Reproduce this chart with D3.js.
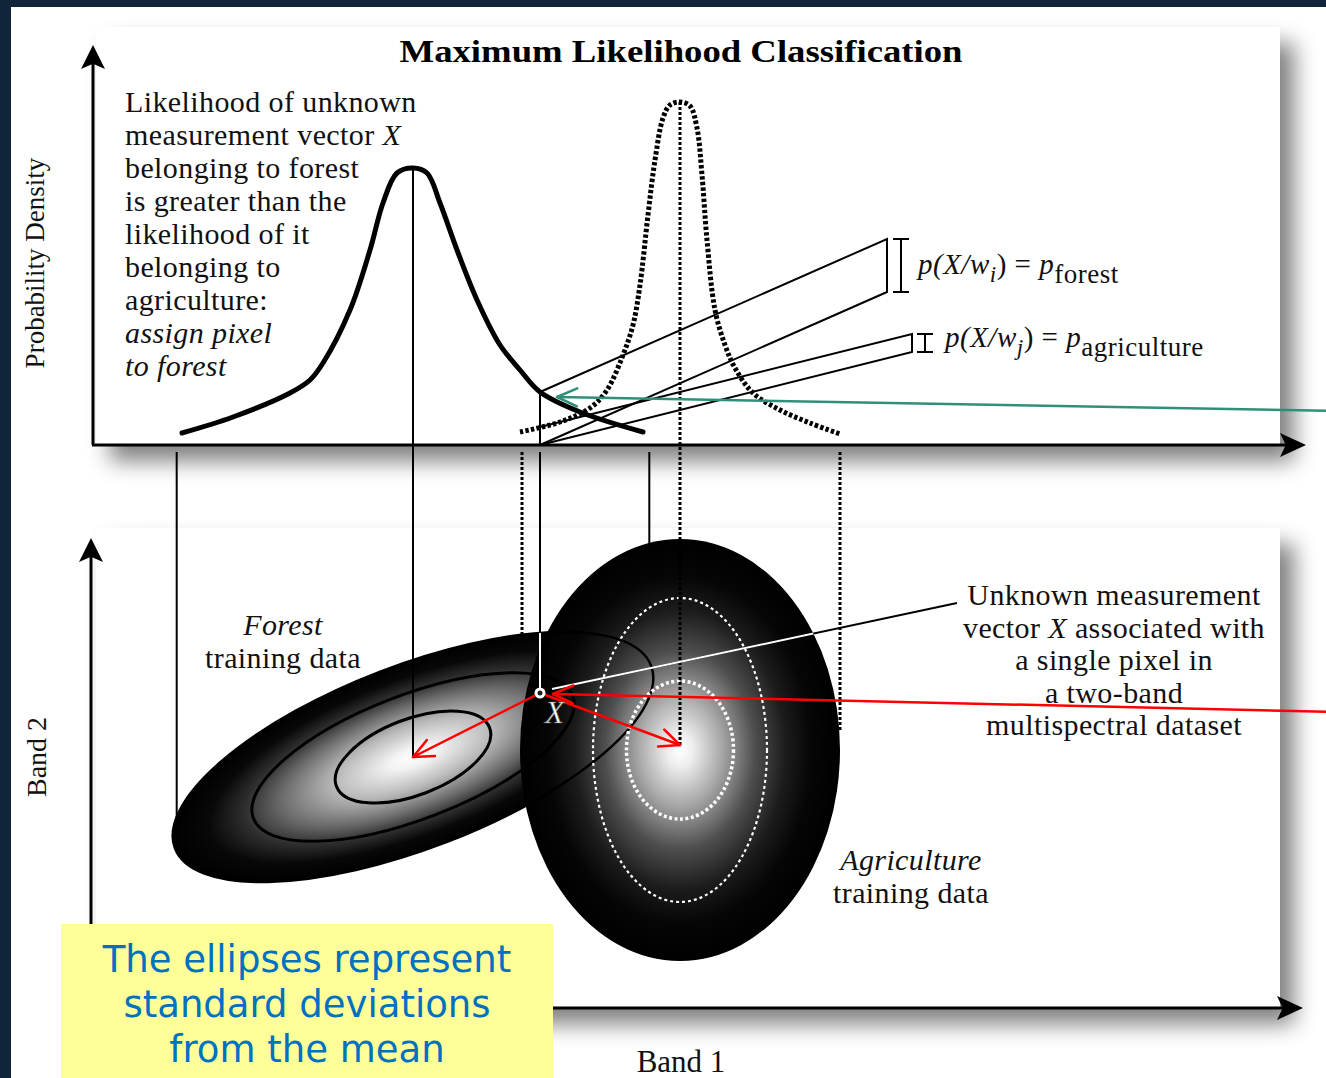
<!DOCTYPE html>
<html>
<head>
<meta charset="utf-8">
<script src="https://cdn.jsdelivr.net/npm/d3@7"></script>
<style>
  body { margin: 0; background: #10243a; }
  svg { display: block; }
</style>
</head>
<body>
<div id="chart"></div>
<script>
// ---- data (band units / relative density) ----
const forestCurve = [[17.8,3.0],[28.0,7.0],[39.4,13.0],[43.4,16.25],[46.0,20.5],[51.4,33.75],[55.4,48.75],[58.0,60.5],[60.8,68.0],[64.0,69.25],[66.8,68.0],[69.4,60.5],[72.8,48.75],[76.8,36.25],[81.4,25.0],[85.4,18.75],[89.4,13.25],[97.4,8.25],[110.0,3.25]];
const agriCurve = [[85.4,3.25],[93.4,5.75],[99.4,9.25],[102.8,13.75],[106.0,22.5],[108.0,30.0],[109.4,40.0],[111.0,57.5],[112.4,71.25],[114.0,81.75],[115.4,85.0],[117.4,85.75],[119.4,84.75],[120.8,79.25],[121.8,67.5],[122.8,51.25],[124.4,33.75],[126.4,25.0],[128.4,19.25],[132.0,13.0],[137.4,8.75],[143.4,5.5],[149.4,2.75]];

const forestMean = [64.0, 50.2];
const agriMean = [117.4, 51.6];
const pixelX = [89.4, 63.0];

// semi axes (major, minor) of the contours, in band units
const forestContours = [[16.4, 7.6], [34.2, 12.4], [51.0, 18.3]];
const forestTilt = 21;
const agriContours = [[10.7, 13.8], [17.4, 30.4], [32.0, 42.2]];

const pForest = 13.25;
const pAgri = 4.5;
const forestBracket = [158.8, 38.25];
const agriBracket = [163.8, 23.25];

const leftNote = [
  [["Likelihood of unknown", false]],
  [["measurement vector ", false], ["X", true]],
  [["belonging to forest", false]],
  [["is greater than the", false]],
  [["likelihood of it", false]],
  [["belonging to", false]],
  [["agriculture:", false]],
  [["assign pixel", true]],
  [["to forest", true]]
];
const rightNote = [
  [["Unknown measurement", false]],
  [["vector ", false], ["X", true], [" associated with", false]],
  [["a single pixel in", false]],
  [["a two-band", false]],
  [["multispectral dataset", false]]
];
const boxNote = ["The ellipses represent", "standard deviations", "from the mean"];

// ---- setup ----
const width = 1326, height = 1078;
const serif = "'Liberation Serif', 'Times New Roman', serif";

const svg = d3.select("#chart").append("svg")
  .attr("width", width).attr("height", height)
  .attr("viewBox", `0 0 ${width} ${height}`);
const defs = svg.append("defs");

const x = d3.scaleLinear().domain([0, 237.4]).range([93, 1280]);
const yTop = d3.scaleLinear().domain([0, 100]).range([445, 45]);
const yBot = d3.scaleLinear().domain([0, 93.6]).range([1008, 540]);
const unit = x(1) - x(0);

// background + page
svg.append("rect").attr("width", width).attr("height", height).attr("fill", "#10243a");
svg.append("rect").attr("x", 11).attr("y", 7).attr("width", width - 11).attr("height", height - 7).attr("fill", "#fff");

// card shadow
const f = defs.append("filter").attr("id", "shadow")
  .attr("x", "-5%").attr("y", "-10%").attr("width", "115%").attr("height", "130%");
f.append("feGaussianBlur").attr("in", "SourceAlpha").attr("stdDeviation", 11).attr("result", "blur");
f.append("feOffset").attr("in", "blur").attr("dx", 14).attr("dy", 16).attr("result", "off");
f.append("feFlood").attr("flood-color", "#000").attr("flood-opacity", 0.5);
f.append("feComposite").attr("in2", "off").attr("operator", "in").attr("result", "sh");
const fm = f.append("feMerge");
fm.append("feMergeNode").attr("in", "sh");
fm.append("feMergeNode").attr("in", "SourceGraphic");

[[27, 445], [528, 1008]].forEach(([y0, y1]) => {
  svg.append("rect").attr("x", 96).attr("y", y0).attr("width", 1280 - 96).attr("height", y1 - y0)
    .attr("fill", "#fff").attr("filter", "url(#shadow)");
});

// gradients
function radial(id, stops) {
  const g = defs.append("radialGradient").attr("id", id)
    .attr("cx", "50%").attr("cy", "50%").attr("r", "50%");
  stops.forEach(([o, c]) => g.append("stop").attr("offset", o).attr("stop-color", c));
}
radial("forestGrad", [[0, "#ffffff"], [0.1, "#f2f2f2"], [0.33, "#b8b8b8"], [0.55, "#6a6a6a"], [0.7, "#2e2e2e"], [0.85, "#080808"], [1, "#000"]]);
radial("agriGrad", [[0, "#ffffff"], [0.08, "#eeeeee"], [0.27, "#a4a4a4"], [0.47, "#4e4e4e"], [0.66, "#1c1c1c"], [0.82, "#060606"], [1, "#000"]]);

// helpers
function arrowHead(g, tx, ty, angle, L, W) {
  const a = angle * Math.PI / 180;
  const pts = [[0, 0], [-L, -W], [-L * 0.78, 0], [-L, W]].map(([px, py]) =>
    [tx + px * Math.cos(a) - py * Math.sin(a), ty + px * Math.sin(a) + py * Math.cos(a)]);
  g.append("path").attr("d", "M" + pts.join("L") + "Z").attr("fill", "#000");
}
function openArrow(g, x0, y0, x1, y1, color, sw) {
  g.append("line").attr("x1", x0).attr("y1", y0).attr("x2", x1).attr("y2", y1)
    .attr("stroke", color).attr("stroke-width", sw);
  const a = Math.atan2(y1 - y0, x1 - x0);
  [-0.42, 0.42].forEach(d => {
    g.append("line").attr("x1", x1).attr("y1", y1)
      .attr("x2", x1 - 22 * Math.cos(a + d)).attr("y2", y1 - 22 * Math.sin(a + d))
      .attr("stroke", color).attr("stroke-width", sw).attr("stroke-linecap", "round");
  });
}
function richText(g, lines, x0, y0, dy, anchor, size) {
  lines.forEach((segs, i) => {
    const t = g.append("text").attr("x", x0).attr("y", y0 + i * dy)
      .attr("text-anchor", anchor).attr("font-family", serif).attr("font-size", size)
      .attr("letter-spacing", 0.4).attr("fill", "#111");
    segs.forEach(([s, it]) => t.append("tspan").attr("font-style", it ? "italic" : "normal").text(s));
  });
}
// extreme left/right points of a tilted ellipse
function ellipseExtremes(cx, cy, a, b, deg) {
  const t = deg * Math.PI / 180;
  const hw = Math.sqrt(a * a * Math.cos(t) ** 2 + b * b * Math.sin(t) ** 2);
  const off = (a * a - b * b) * Math.sin(t) * Math.cos(t) / hw;
  return { left: [cx - hw, cy + off], right: [cx + hw, cy - off] };
}

// ---- top panel ----
const topPanel = svg.append("g");

topPanel.append("text").attr("x", 681).attr("y", 62).attr("text-anchor", "middle")
  .attr("font-family", serif).attr("font-weight", "bold").attr("font-size", 32)
  .attr("textLength", 563).attr("lengthAdjust", "spacingAndGlyphs")
  .text("Maximum Likelihood Classification");

topPanel.append("text").attr("transform", "translate(44,263) rotate(-90)").attr("text-anchor", "middle")
  .attr("font-family", serif).attr("font-size", 27).attr("fill", "#111").text("Probability Density");

richText(topPanel, leftNote, 125, 112, 33, "start", 30);

const curveLine = d3.line().x(d => x(d[0])).y(d => yTop(d[1])).curve(d3.curveCatmullRom.alpha(0.5));

// projection lines from pixel X
const px = x(pixelX[0]);
const conn = topPanel.append("g").attr("stroke", "#000").attr("stroke-width", 2).attr("fill", "none");
conn.append("line").attr("x1", px).attr("y1", yTop(0)).attr("x2", px).attr("y2", yTop(pForest));
conn.append("path").attr("d", `M${px},${yTop(pForest)}L${x(forestBracket[0])},${yTop(forestBracket[1] + pForest)}L${x(forestBracket[0])},${yTop(forestBracket[1])}L${px},${yTop(0)}`);
conn.append("path").attr("d", `M${px},${yTop(pAgri)}L${x(agriBracket[0])},${yTop(agriBracket[1] + pAgri)}L${x(agriBracket[0])},${yTop(agriBracket[1])}L${px},${yTop(0)}`);

// I-brackets
[[forestBracket, pForest, 14], [agriBracket, pAgri, 13]].forEach(([b, p, off]) => {
  const bx = x(b[0]) + off, y0 = yTop(b[1] + p), y1 = yTop(b[1]);
  conn.append("path").attr("d", `M${bx - 8},${y0}H${bx + 8}M${bx},${y0}V${y1}M${bx - 8},${y1}H${bx + 8}`);
});

// formula labels
function formula(xx, yy, sub1, sub2) {
  const t = topPanel.append("text").attr("x", xx).attr("y", yy).attr("font-family", serif)
    .attr("font-size", 29).attr("letter-spacing", 0.5).attr("fill", "#111");
  t.append("tspan").attr("font-style", "italic").text("p(X/w");
  t.append("tspan").attr("font-style", "italic").attr("font-size", 23).attr("dy", 8).text(sub1);
  t.append("tspan").attr("dy", -8).text(") = ");
  t.append("tspan").attr("font-style", "italic").text("p");
  t.append("tspan").attr("font-size", 27).attr("dy", 9).text(sub2);
}
formula(x(forestBracket[0]) + 31, (yTop(forestBracket[1] + pForest) + yTop(forestBracket[1])) / 2 + 8, "i", "forest");
formula(x(agriBracket[0]) + 33, (yTop(agriBracket[1] + pAgri) + yTop(agriBracket[1])) / 2 + 4, "j", "agriculture");

// density curves
topPanel.append("path").attr("d", curveLine(forestCurve)).attr("fill", "none")
  .attr("stroke", "#000").attr("stroke-width", 5).attr("stroke-linecap", "round");
topPanel.append("path").attr("d", curveLine(agriCurve)).attr("fill", "none")
  .attr("stroke", "#000").attr("stroke-width", 5).attr("stroke-dasharray", "3.4 2.2");

// top axes
topPanel.append("line").attr("x1", 93).attr("y1", yTop(0)).attr("x2", 93).attr("y2", 60).attr("stroke", "#000").attr("stroke-width", 3);
topPanel.append("line").attr("x1", 92).attr("y1", yTop(0)).attr("x2", 1290).attr("y2", yTop(0)).attr("stroke", "#000").attr("stroke-width", 3);
arrowHead(topPanel, 93, 45, -90, 24, 12);
arrowHead(topPanel, 1306, yTop(0), 0, 26, 12);

// ---- bottom panel ----
const bot = svg.append("g");
const fC = [x(forestMean[0]), yBot(forestMean[1])];
const aC = [x(agriMean[0]), yBot(agriMean[1])];
const fOuter = forestContours[forestContours.length - 1];
const aOuter = agriContours[agriContours.length - 1];
const fExt = ellipseExtremes(fC[0], fC[1], fOuter[0] * unit, fOuter[1] * unit, forestTilt);

// vertical drop lines from the curves
const drops = bot.append("g").attr("stroke", "#000").attr("fill", "none");
drops.append("line").attr("x1", fExt.left[0] + 4).attr("x2", fExt.left[0] + 4).attr("y1", 452).attr("y2", fExt.left[1]).attr("stroke-width", 2);
drops.append("line").attr("x1", fExt.right[0] - 4).attr("x2", fExt.right[0] - 4).attr("y1", 452).attr("y2", fExt.right[1]).attr("stroke-width", 2);
drops.append("line").attr("x1", aC[0] - aOuter[0] * unit + 2).attr("x2", aC[0] - aOuter[0] * unit + 2).attr("y1", 452).attr("y2", aC[1]).attr("stroke-width", 3).attr("stroke-dasharray", "3 2");
drops.append("line").attr("x1", aC[0] + aOuter[0] * unit).attr("x2", aC[0] + aOuter[0] * unit).attr("y1", 452).attr("y2", aC[1] - 20).attr("stroke-width", 3).attr("stroke-dasharray", "3 2");

// filled ellipses
bot.append("ellipse").attr("rx", fOuter[0] * unit).attr("ry", fOuter[1] * unit)
  .attr("transform", `translate(${fC[0]},${fC[1]}) rotate(${-forestTilt})`).attr("fill", "url(#forestGrad)");
bot.append("ellipse").attr("rx", aOuter[0] * unit).attr("ry", aOuter[1] * unit)
  .attr("transform", `translate(${aC[0]},${aC[1]})`).attr("fill", "url(#agriGrad)");

// contours
bot.selectAll(".fc").data(forestContours).join("ellipse").attr("class", "fc")
  .attr("rx", d => d[0] * unit).attr("ry", d => d[1] * unit)
  .attr("transform", `translate(${fC[0]},${fC[1]}) rotate(${-forestTilt})`)
  .attr("fill", "none").attr("stroke", "#000").attr("stroke-width", (d, i) => i === 2 ? 2.5 : 3);
bot.selectAll(".ac").data(agriContours.slice(0, 2)).join("ellipse").attr("class", "ac")
  .attr("cx", aC[0]).attr("cy", aC[1]).attr("rx", d => d[0] * unit).attr("ry", d => d[1] * unit)
  .attr("fill", "none").attr("stroke", "#fff")
  .attr("stroke-width", (d, i) => i === 0 ? 3.5 : 2.2).attr("stroke-dasharray", (d, i) => i === 0 ? "3 2.5" : "3 3");

// mean lines from curve peaks
bot.append("line").attr("x1", fC[0]).attr("x2", fC[0]).attr("y1", yTop(69.25)).attr("y2", fC[1]).attr("stroke", "#000").attr("stroke-width", 2);
bot.append("line").attr("x1", aC[0]).attr("x2", aC[0]).attr("y1", yTop(85.75)).attr("y2", aC[1] - 4).attr("stroke", "#000").attr("stroke-width", 3).attr("stroke-dasharray", "3 2");

// clip for white lines inside dark ellipses
const clip = defs.append("clipPath").attr("id", "dark");
clip.append("ellipse").attr("rx", fOuter[0] * unit).attr("ry", fOuter[1] * unit)
  .attr("transform", `translate(${fC[0]},${fC[1]}) rotate(${-forestTilt})`);
clip.append("ellipse").attr("cx", aC[0]).attr("cy", aC[1]).attr("rx", aOuter[0] * unit).attr("ry", aOuter[1] * unit);

const pX = [x(pixelX[0]), yBot(pixelX[1])];
const noteAnchor = [957, 603];
[["#000", null], ["#fff", "url(#dark)"]].forEach(([c, cp]) => {
  const g = bot.append("g").attr("clip-path", cp);
  g.append("line").attr("x1", pX[0]).attr("x2", pX[0]).attr("y1", 452).attr("y2", pX[1]).attr("stroke", c).attr("stroke-width", 2);
  g.append("line").attr("x1", pX[0] + 12).attr("y1", pX[1] - 4).attr("x2", noteAnchor[0]).attr("y2", noteAnchor[1]).attr("stroke", c).attr("stroke-width", 2);
});

// red distance arrows
openArrow(bot, pX[0], pX[1], fC[0], fC[1], "#ff0000", 2.5);
openArrow(bot, pX[0], pX[1], aC[0], aC[1] - 5, "#ff0000", 2.5);
openArrow(bot, 1340, 712, pX[0] + 13, pX[1] + 1, "#ff0000", 2.5);
// teal pointer to p(forest)
openArrow(bot, 1340, 411, px + 17, yTop(pForest) + 5, "#2f8f78", 2.5);

// pixel X marker
bot.append("circle").attr("cx", pX[0]).attr("cy", pX[1]).attr("r", 4).attr("fill", "#222").attr("stroke", "#fff").attr("stroke-width", 3);
bot.append("text").attr("x", pX[0] + 5).attr("y", pX[1] + 30).attr("font-family", serif).attr("font-style", "italic")
  .attr("font-size", 31).attr("fill", "#fff").attr("stroke", "#555").attr("stroke-width", 0.6).text("X");

// labels
richText(bot, [[["Forest", true]], [["training data", false]]], 283, 635, 33, "middle", 30);
richText(bot, [[["Agriculture", true]], [["training data", false]]], 911, 870, 33, "middle", 30);
richText(bot, rightNote, 1114, 605, 32.5, "middle", 30);

// bottom axes
bot.append("line").attr("x1", 91).attr("y1", yBot(0)).attr("x2", 91).attr("y2", 555).attr("stroke", "#000").attr("stroke-width", 3);
bot.append("line").attr("x1", 90).attr("y1", yBot(0)).attr("x2", 1285).attr("y2", yBot(0)).attr("stroke", "#000").attr("stroke-width", 3);
arrowHead(bot, 91, 538, -90, 24, 12);
arrowHead(bot, 1303, yBot(0), 0, 26, 12);

bot.append("text").attr("transform", "translate(46,757) rotate(-90)").attr("text-anchor", "middle")
  .attr("font-family", serif).attr("font-size", 28).attr("fill", "#111").text("Band 2");
bot.append("text").attr("x", 681).attr("y", 1072).attr("text-anchor", "middle")
  .attr("font-family", serif).attr("font-size", 31).attr("fill", "#111").text("Band 1");

// yellow note
bot.append("rect").attr("x", 61).attr("y", 924).attr("width", 492).attr("height", 160).attr("fill", "#ffff99");
bot.selectAll(".box").data(boxNote).join("text").attr("class", "box")
  .attr("x", 307).attr("y", (d, i) => 972 + i * 45).attr("text-anchor", "middle")
  .attr("font-family", "'DejaVu Sans', Verdana, sans-serif").attr("font-size", 37).attr("fill", "#0070c0")
  .text(d => d);
</script>
</body>
</html>
